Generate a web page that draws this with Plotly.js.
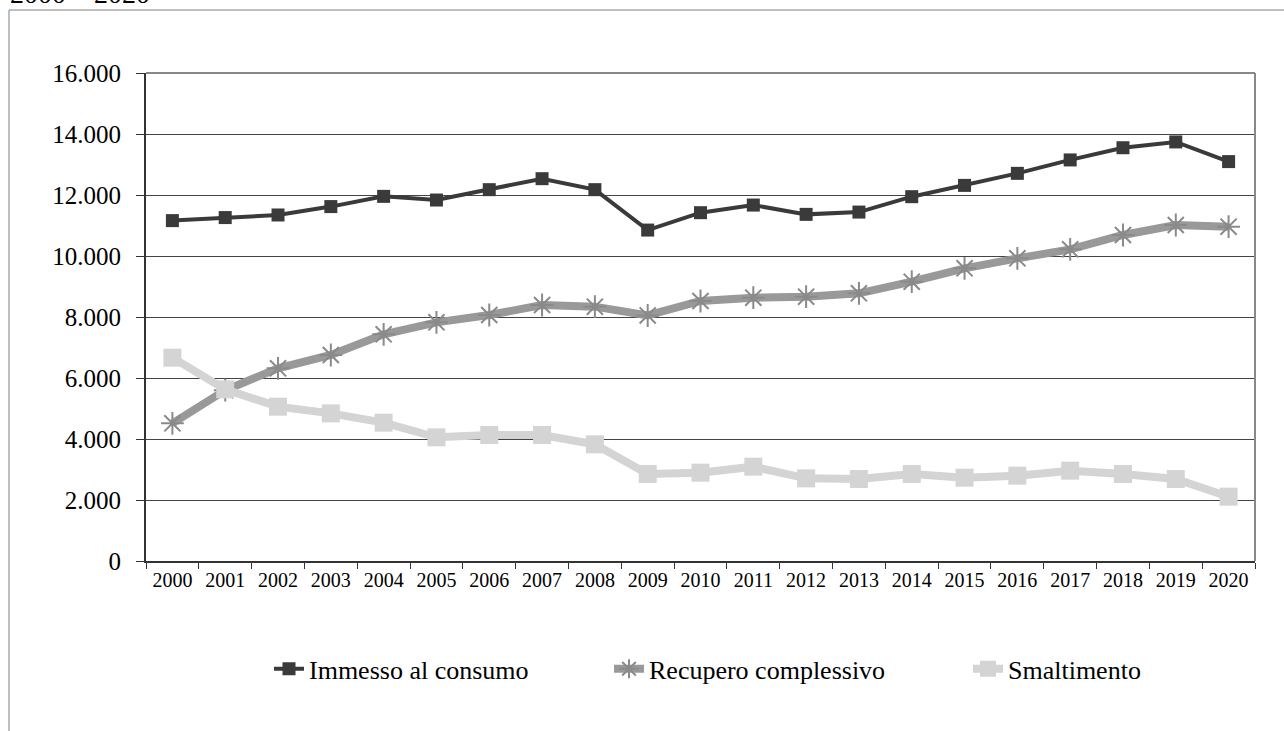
<!DOCTYPE html>
<html>
<head>
<meta charset="utf-8">
<script src="https://cdn.plot.ly/plotly-3.0.1.min.js"></script>
<style>html,body{margin:0;padding:0;background:#fff;}#chart{width:1284px;height:731px;}</style>
</head>
<body>
<div id="chart"></div>
<script>
var years = ["2000","2001","2002","2003","2004","2005","2006","2007","2008","2009","2010","2011","2012","2013","2014","2015","2016","2017","2018","2019","2020"];
var immesso = [11160,11260,11345,11620,11955,11835,12175,12535,12175,10850,11420,11670,11365,11440,11945,12315,12710,13150,13550,13740,13095];
var recupero = [4515,5600,6317,6754,7432,7825,8066,8393,8339,8050,8525,8634,8667,8776,9158,9596,9924,10219,10689,11016,10962];
var smaltimento = [6667,5628,5060,4841,4535,4055,4131,4131,3825,2852,2896,3093,2710,2688,2852,2732,2798,2962,2852,2688,2109];
var seriesNames = ["Immesso al consumo","Recupero complessivo","Smaltimento"];
var topText = "2000 – 2020";

var FONT = "Liberation Serif, Times New Roman, serif";

var traces = [
  {x: years, y: immesso, name: seriesNames[0], type: "scatter", mode: "lines+markers",
   legendwidth: 295,
   line: {color: "#3a3a3a", width: 4},
   marker: {symbol: "square", size: 13, color: "#3a3a3a", line: {width: 0}}},
  {x: years, y: recupero, name: seriesNames[1], type: "scatter", mode: "lines+markers",
   legendwidth: 314,
   line: {color: "#999999", width: 8},
   marker: {symbol: "asterisk-open", size: 19, color: "#8a8a8a", line: {width: 2, color: "#8a8a8a"}}},
  {x: years, y: smaltimento, name: seriesNames[2], type: "scatter", mode: "lines+markers",
   line: {color: "#d4d4d4", width: 8},
   marker: {symbol: "square", size: 18, color: "#d4d4d4", line: {width: 0}}}
];

var layout = {
  width: 1284, height: 731,
  margin: {l: 146, r: 29, t: 73, b: 170},
  paper_bgcolor: "#ffffff", plot_bgcolor: "#ffffff",
  separators: ",.",
  font: {family: FONT, color: "#000000"},
  showlegend: true,
  title: {text: topText, font: {family: FONT, size: 28, color: "#000"},
          xref: "container", yref: "container", x: 10/1284, xanchor: "left",
          y: 1 - 3/731, yanchor: "bottom"},
  xaxis: {type: "category", showgrid: false, zeroline: false,
          showline: true, linecolor: "#333333", linewidth: 2,
          ticks: "outside", tickson: "boundaries", ticklen: 6, tickcolor: "#333333", tickwidth: 1,
          tickfont: {family: FONT, size: 20, color: "#000"},
          range: [-0.5, 20.5], fixedrange: true},
  yaxis: {range: [0, 16000], dtick: 2000, tick0: 0, tickformat: ",d",
          showgrid: true, gridcolor: "#444444", gridwidth: 1, zeroline: false,
          showline: true, linecolor: "#333333", linewidth: 2,
          ticks: "outside", ticklen: 8, tickcolor: "#333333", tickwidth: 1,
          ticklabelstandoff: 10,
          tickfont: {family: FONT, size: 25, color: "#000"}, fixedrange: true},
  legend: {orientation: "h", x: (269-146)/1109, xanchor: "left", y: -0.221, yanchor: "middle",
           entrywidthmode: "pixels",
           font: {family: FONT, size: 26, color: "#000"}, bgcolor: "rgba(0,0,0,0)"},
  shapes: [
    {type: "line", xref: "paper", yref: "paper", x0: 0, x1: 1, y0: 1, y1: 1,
     line: {color: "#888888", width: 2}},
    {type: "line", xref: "paper", yref: "paper", x0: 1, x1: 1, y0: 0, y1: 1,
     line: {color: "#888888", width: 2}},
    {type: "line", xref: "paper", yref: "paper", x0: (9-146)/1109, x1: (1290-146)/1109, y0: (561-10)/488, y1: (561-10)/488,
     line: {color: "#aaaaaa", width: 1.5}},
    {type: "line", xref: "paper", yref: "paper", x0: (9-146)/1109, x1: (9-146)/1109, y0: (561-10)/488, y1: (561-740)/488,
     line: {color: "#aaaaaa", width: 1.5}}
  ]
};

Plotly.newPlot("chart", traces, layout, {displayModeBar: false, staticPlot: true});
</script>
</body>
</html>
